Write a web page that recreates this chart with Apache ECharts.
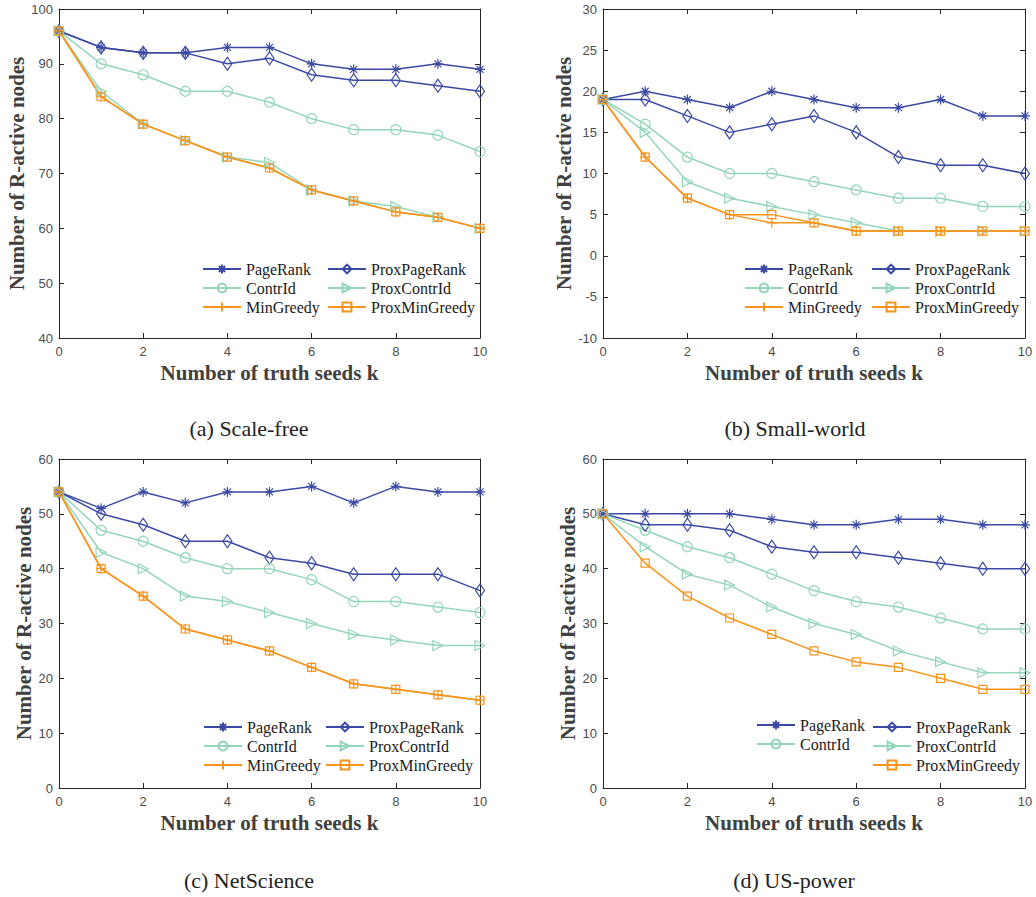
<!DOCTYPE html>
<html>
<head>
<meta charset="utf-8">
<script src="https://cdn.jsdelivr.net/npm/echarts@6/dist/echarts.min.js"></script>
<style>
html,body{margin:0;padding:0;background:#fff;}
#chart{width:1036px;height:897px;}
</style>
</head>
<body>
<div id="chart"></div>
<script>
// ---------------- data ----------------
const kValues = [0, 1, 2, 3, 4, 5, 6, 7, 8, 9, 10];
const methodNames = ['PageRank', 'ProxPageRank', 'ContrId', 'ProxContrId', 'MinGreedy', 'ProxMinGreedy'];
const captions = ['(a) Scale-free', '(b) Small-world', '(c) NetScience', '(d) US-power'];

// (a) Scale-free
const sfPageRank      = [96, 93, 92, 92, 93, 93, 90, 89, 89, 90, 89];
const sfProxPageRank  = [96, 93, 92, 92, 90, 91, 88, 87, 87, 86, 85];
const sfContrId       = [96, 90, 88, 85, 85, 83, 80, 78, 78, 77, 74];
const sfProxContrId   = [96, 85, 79, 76, 73, 72, 67, 65, 64, 62, 60];
const sfMinGreedy     = [96, 84, 79, 76, 73, 71, 67, 65, 63, 62, 60];
const sfProxMinGreedy = [96, 84, 79, 76, 73, 71, 67, 65, 63, 62, 60];

// (b) Small-world
const swPageRank      = [19, 20, 19, 18, 20, 19, 18, 18, 19, 17, 17];
const swProxPageRank  = [19, 19, 17, 15, 16, 17, 15, 12, 11, 11, 10];
const swContrId       = [19, 16, 12, 10, 10, 9, 8, 7, 7, 6, 6];
const swProxContrId   = [19, 15, 9, 7, 6, 5, 4, 3, 3, 3, 3];
const swMinGreedy     = [19, 12, 7, 5, 4, 4, 3, 3, 3, 3, 3];
const swProxMinGreedy = [19, 12, 7, 5, 5, 4, 3, 3, 3, 3, 3];

// (c) NetScience
const nsPageRank      = [54, 51, 54, 52, 54, 54, 55, 52, 55, 54, 54];
const nsProxPageRank  = [54, 50, 48, 45, 45, 42, 41, 39, 39, 39, 36];
const nsContrId       = [54, 47, 45, 42, 40, 40, 38, 34, 34, 33, 32];
const nsProxContrId   = [54, 43, 40, 35, 34, 32, 30, 28, 27, 26, 26];
const nsMinGreedy     = [54, 40, 35, 29, 27, 25, 22, 19, 18, 17, 16];
const nsProxMinGreedy = [54, 40, 35, 29, 27, 25, 22, 19, 18, 17, 16];

// (d) US-power (no MinGreedy curve)
const upPageRank      = [50, 50, 50, 50, 49, 48, 48, 49, 49, 48, 48];
const upProxPageRank  = [50, 48, 48, 47, 44, 43, 43, 42, 41, 40, 40];
const upContrId       = [50, 47, 44, 42, 39, 36, 34, 33, 31, 29, 29];
const upProxContrId   = [50, 44, 39, 37, 33, 30, 28, 25, 23, 21, 21];
const upProxMinGreedy = [50, 41, 35, 31, 28, 25, 23, 22, 20, 18, 18];

// y-axis ranges / tick steps
const yMins = [40, -10, 0, 0];
const yMaxs = [100, 30, 60, 60];
const ySteps = [10, 5, 10, 10];

// ---------------- styles ----------------
const BLUE = '#3a49a4';
const GREEN = '#95d5b9';
const ORANGE = '#f7941d';
const TRANSP = 'rgba(255,255,255,0)';
const ASTER = 'path://M5,0L5,10M0,5L10,5M1.5,1.5L8.5,8.5M8.5,1.5L1.5,8.5';
const PLUS = 'path://M5,0L5,10M0,5L10,5';
const TRI_R = 'path://M0,0L10,5L0,10Z';

const styleMap = {
  PageRank:      {color: BLUE,   symbol: ASTER,     size: 10, fill: BLUE},
  ProxPageRank:  {color: BLUE,   symbol: 'diamond', size: [9, 13], fill: TRANSP},
  ContrId:       {color: GREEN,  symbol: 'circle',  size: 10, fill: TRANSP},
  ProxContrId:   {color: GREEN,  symbol: TRI_R,     size: 10, fill: TRANSP},
  MinGreedy:     {color: ORANGE, symbol: PLUS,      size: 10, fill: ORANGE},
  ProxMinGreedy: {color: ORANGE, symbol: 'rect',    size: 8,  fill: TRANSP}
};

const panelData = [
  {PageRank: sfPageRank, ProxPageRank: sfProxPageRank, ContrId: sfContrId, ProxContrId: sfProxContrId, MinGreedy: sfMinGreedy, ProxMinGreedy: sfProxMinGreedy},
  {PageRank: swPageRank, ProxPageRank: swProxPageRank, ContrId: swContrId, ProxContrId: swProxContrId, MinGreedy: swMinGreedy, ProxMinGreedy: swProxMinGreedy},
  {PageRank: nsPageRank, ProxPageRank: nsProxPageRank, ContrId: nsContrId, ProxContrId: nsProxContrId, MinGreedy: nsMinGreedy, ProxMinGreedy: nsProxMinGreedy},
  {PageRank: upPageRank, ProxPageRank: upProxPageRank, ContrId: upContrId, ProxContrId: upProxContrId, ProxMinGreedy: upProxMinGreedy}
];

// layout
const grids = [
  {left: 59,  top: 9,   width: 421, height: 329},
  {left: 603, top: 9,   width: 422, height: 329},
  {left: 59,  top: 459, width: 421, height: 329},
  {left: 603, top: 459, width: 422, height: 329}
];
const yNameGaps = [31, 28, 24, 24];
const captionPos = [[249, 428], [795, 428], [249, 880], [794, 880]];
const legendPos = [
  {l1: [202, 261], l2: [327, 261], left: ['PageRank', 'ContrId', 'MinGreedy'], right: ['ProxPageRank', 'ProxContrId', 'ProxMinGreedy']},
  {l1: [744, 261], l2: [871, 261], left: ['PageRank', 'ContrId', 'MinGreedy'], right: ['ProxPageRank', 'ProxContrId', 'ProxMinGreedy']},
  {l1: [203, 719], l2: [325, 719], left: ['PageRank', 'ContrId', 'MinGreedy'], right: ['ProxPageRank', 'ProxContrId', 'ProxMinGreedy']},
  {l1: [756, 717], l2: [872, 719], left: ['PageRank', 'ContrId'], right: ['ProxPageRank', 'ProxContrId', 'ProxMinGreedy']}
];

const AXIS_COLOR = '#262626';
const LABEL_COLOR = '#4d4d4d';
const TITLE_COLOR = '#404040';

const xAxes = [], yAxes = [], series = [], legends = [], graphics = [];

grids.forEach((g, i) => {
  // bottom x
  xAxes.push({
    type: 'value', gridIndex: i, min: 0, max: 10, interval: 2, position: 'bottom',
    name: 'Number of truth seeds k', nameLocation: 'middle', nameGap: 24,
    nameTextStyle: {fontFamily: 'Liberation Serif', fontWeight: 'bold', fontSize: 21, color: TITLE_COLOR},
    axisLine: {show: true, onZero: false, lineStyle: {color: AXIS_COLOR, width: 1}},
    axisTick: {show: true, inside: true, length: 5, lineStyle: {color: AXIS_COLOR}},
    axisLabel: {color: LABEL_COLOR, fontFamily: 'Liberation Sans', fontSize: 13, margin: 7},
    splitLine: {show: false}
  });
  // top x (box)
  xAxes.push({
    type: 'value', gridIndex: i, min: 0, max: 10, interval: 2, position: 'top',
    axisLine: {show: true, onZero: false, lineStyle: {color: AXIS_COLOR, width: 1}},
    axisTick: {show: true, inside: true, length: 5, lineStyle: {color: AXIS_COLOR}},
    axisLabel: {show: false}, splitLine: {show: false}
  });
  // left y
  yAxes.push({
    type: 'value', gridIndex: i, min: yMins[i], max: yMaxs[i], interval: ySteps[i], position: 'left',
    name: 'Number of R-active nodes', nameLocation: 'middle', nameGap: yNameGaps[i],
    nameTextStyle: {fontFamily: 'Liberation Serif', fontWeight: 'bold', fontSize: 21, color: TITLE_COLOR},
    axisLine: {show: true, onZero: false, lineStyle: {color: AXIS_COLOR, width: 1}},
    axisTick: {show: true, inside: true, length: 5, lineStyle: {color: AXIS_COLOR}},
    axisLabel: {color: LABEL_COLOR, fontFamily: 'Liberation Sans', fontSize: 13, margin: 6},
    splitLine: {show: false}
  });
  // right y (box)
  yAxes.push({
    type: 'value', gridIndex: i, min: yMins[i], max: yMaxs[i], interval: ySteps[i], position: 'right',
    axisLine: {show: true, onZero: false, lineStyle: {color: AXIS_COLOR, width: 1}},
    axisTick: {show: true, inside: true, length: 5, lineStyle: {color: AXIS_COLOR}},
    axisLabel: {show: false}, splitLine: {show: false}
  });

  methodNames.forEach(name => {
    const vals = panelData[i][name];
    if (!vals) return;
    const st = styleMap[name];
    series.push({
      type: 'line', name: name,
      xAxisIndex: i * 2, yAxisIndex: i * 2,
      data: kValues.map((k, j) => [k, vals[j]]),
      symbol: st.symbol, symbolSize: st.size, showAllSymbol: true,
      lineStyle: {color: st.color, width: 1.5},
      itemStyle: {color: st.fill, borderColor: st.color, borderWidth: 1.2},
      emphasis: {disabled: true},
      animation: false
    });
  });

  const lp = legendPos[i];
  const legendBase = {
    orient: 'vertical', itemWidth: 38, itemHeight: 11, itemGap: 3, padding: 0,
    selectedMode: false,
    textStyle: {fontFamily: 'Liberation Serif', fontSize: 16, lineHeight: 16, color: '#1a1a1a'}
  };
  legends.push(Object.assign({}, legendBase, {left: lp.l1[0], top: lp.l1[1], data: lp.left}));
  legends.push(Object.assign({}, legendBase, {left: lp.l2[0], top: lp.l2[1], data: lp.right}));

  graphics.push({
    type: 'text', x: captionPos[i][0], y: captionPos[i][1],
    style: {text: captions[i], fill: '#222', fontFamily: 'Liberation Serif', fontSize: 22, align: 'center', verticalAlign: 'middle'}
  });
});

const chart = echarts.init(document.getElementById('chart'), null, {renderer: 'svg'});
chart.setOption({
  animation: false,
  backgroundColor: '#fff',
  grid: grids,
  xAxis: xAxes,
  yAxis: yAxes,
  legend: legends,
  series: series,
  graphic: graphics
});
</script>
</body>
</html>
